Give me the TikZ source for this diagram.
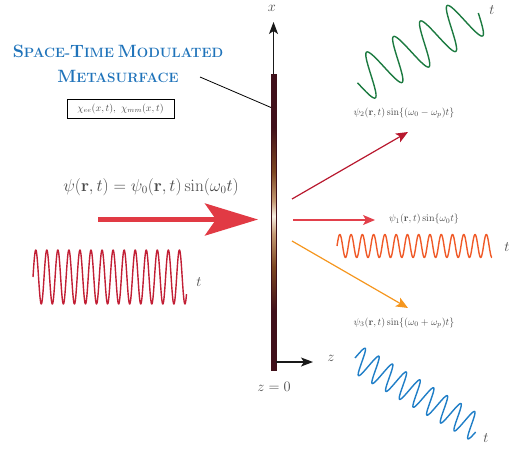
\documentclass[tikz,border=0pt]{standalone}
\usepackage{amsmath}
\usetikzlibrary{arrows.meta}
\definecolor{titleblue}{HTML}{1F73BA}
\definecolor{txtgray}{HTML}{4A4A4A}
\definecolor{incred}{HTML}{E13A44}
\definecolor{wavered}{HTML}{C21F35}
\definecolor{refdark}{HTML}{B8182E}
\definecolor{refmid}{HTML}{E2404B}
\definecolor{reforange}{HTML}{F5961E}
\definecolor{waveorange}{HTML}{F05A28}
\definecolor{wavegreen}{HTML}{1C7A40}
\definecolor{waveblue}{HTML}{1F7EC7}
\definecolor{bardk}{HTML}{40101A}
\definecolor{barbr}{HTML}{7C4722}
\definecolor{bartan}{HTML}{C49A74}
\definecolor{barlt}{HTML}{F7EEE2}
\pgfdeclareverticalshading{barshade}{100bp}{color(0bp)=(bardk); color(25bp)=(bardk); color(35bp)=(bardk); color(42.5bp)=(barbr); color(48bp)=(bartan); color(51bp)=(barlt); color(53.5bp)=(bartan); color(58.5bp)=(barbr); color(66bp)=(bardk); color(75bp)=(bardk); color(100bp)=(bardk)}
\newcommand{\tcap}[1]{{\fontsize{17.8}{17.8}\selectfont #1}}
\newcommand{\tsml}[1]{{\fontsize{13.5}{13.5}\selectfont #1}}
\begin{document}
\begin{tikzpicture}[x=1pt,y=-1pt,
  lbl/.style={text=txtgray, inner sep=0pt},
  axisarr/.style={draw=black!90, line width=1.1pt, -{Stealth[length=12pt,width=9pt,inset=3pt]}},
  wave/.style={line width=1.4pt, line join=round},
  refarr/.style={line width=1.2pt, -{Stealth[length=12pt,width=10pt,inset=3pt]}},
  smalllbl/.style={lbl, font=\fontsize{9.8}{9.8}\selectfont},
  tlbl/.style={lbl, font=\fontsize{14}{14}\selectfont},
]
\useasboundingbox (0,0) rectangle (519,452);

% metasurface bar
\node[draw=bardk, line width=0.3pt, shading=barshade, minimum width=5pt, minimum height=296pt, inner sep=0pt] (bar) at (273.5,222) {};

% axes
\coordinate (xtip) at (273.5,22);
\draw[axisarr] (bar.north) -- (xtip);
\node[tlbl] (xl) at (272,8) {$x$};
\coordinate (zorig) at (276,362);
\coordinate (ztip) at (313,362);
\draw[axisarr] (zorig) -- (ztip);
\node[tlbl] (zl) at (331,358) {$z$};
\node[lbl, font=\fontsize{15}{15}\selectfont] (z0) at (274,387) {$z=0$};

% title
\node[text=titleblue, font=\bfseries, inner sep=0pt, anchor=base] (title1) at (118,57) {\tcap{S}\tsml{PACE-}\tcap{T}\tsml{IME} \tcap{M}\tsml{ODULATED}};
\node[text=titleblue, font=\bfseries, inner sep=0pt, anchor=base] (title2) at (118,82) {\tcap{M}\tsml{ETASURFACE}};
\node[draw=black, line width=0.6pt, text=txtgray, minimum width=107pt, minimum height=19pt, inner sep=0pt, font=\fontsize{10.4}{10.4}\selectfont] (chi) at (120.5,108.5) {$\chi_{ee}(x,t),\ \chi_{mm}(x,t)$};
\coordinate (ptrstart) at (200,77);
\coordinate (ptrend) at (271,107.5);
\draw[black, line width=0.8pt] (ptrstart) -- (ptrend);

% incident
\node[lbl, font=\fontsize{16.3}{16.3}\selectfont] (inclbl) at (151,187) {$\psi(\mathbf{r},t)=\psi_0(\mathbf{r},t)\sin(\omega_0 t)$};
\coordinate (incstart) at (98,219.5);
\coordinate (inctip) at (258,219.5);
\draw[incred, line width=5pt, -{Stealth[length=53pt,width=32pt,inset=11pt]}] (incstart) -- (inctip);
\draw[wave, wavered] plot[domain=0:153.5, samples=500] ({\x+33}, {277-27*sin(\x/11.05*360)});
\node[tlbl] (t0) at (199,282) {$t$};

% reflected / transmitted arrows
\coordinate (a2s) at (292,199); \coordinate (a2e) at (408,132);
\coordinate (a1s) at (293,220); \coordinate (a1e) at (375,220);
\coordinate (a3s) at (292,241); \coordinate (a3e) at (408,308);
\draw[refarr, refdark] (a2s) -- (a2e);
\draw[refarr, refmid] (a1s) -- (a1e);
\draw[refarr, reforange] (a3s) -- (a3e);

\node[smalllbl] (l2) at (404,113) {$\psi_2(\mathbf{r},t)\sin\{(\omega_0-\omega_p)t\}$};
\node[smalllbl] (l1) at (424,219) {$\psi_1(\mathbf{r},t)\sin\{\omega_0 t\}$};
\node[smalllbl] (l3) at (404,323) {$\psi_3(\mathbf{r},t)\sin\{(\omega_0+\omega_p)t\}$};

% output waves
\draw[wave, waveorange] plot[domain=0:155, samples=500] ({\x+337}, {246-11.5*sin(\x/11.27*360)});
\node[tlbl] (t1) at (507,247) {$t$};

\begin{scope}[shift={(357.5,82.75)}, rotate=30]
\draw[wave, wavegreen] plot[domain=0:139.5, samples=300] (\x, {22*sin(\x/31*360)});
\end{scope}
\node[tlbl] (t2) at (492,10) {$t$};

\begin{scope}[shift={(355,358)}, rotate=-30]
\draw[wave, waveblue] plot[domain=0:141.5, samples=400] (\x, {-13.5*sin(\x/15.8*360)});
\end{scope}
\node[tlbl] (t3) at (486,438) {$t$};
\end{tikzpicture}
\end{document}
